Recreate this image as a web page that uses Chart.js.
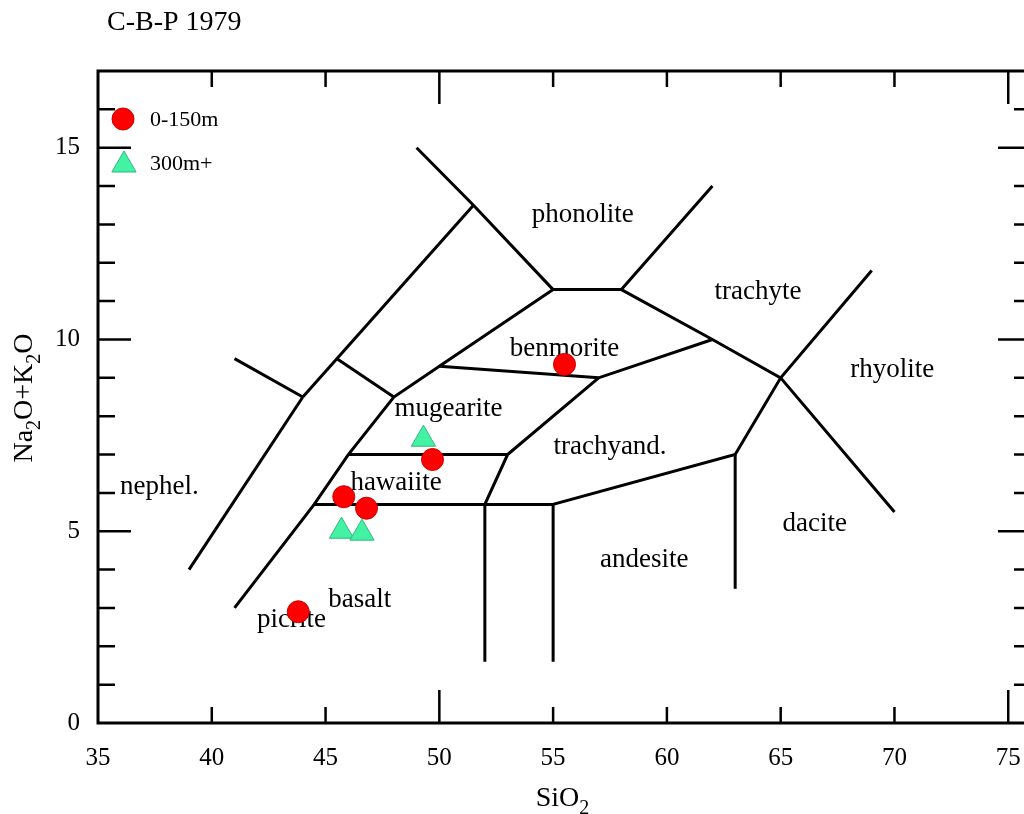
<!DOCTYPE html>
<html>
<head>
<meta charset="utf-8">
<script src="https://cdn.jsdelivr.net/npm/chart.js@4.4.1/dist/chart.umd.min.js"></script>
<style>
  html, body { margin: 0; padding: 0; background: #fff; overflow: hidden; }
  #tas { position: absolute; left: 0; top: 0; }
</style>
</head>
<body>
<canvas id="tas" width="1040" height="814"></canvas>
<script>
// samples, SiO2 vs Na2O+K2O (wt%)
const shallowSiO2 = [55.5, 49.7, 45.8, 46.8, 43.8];
const shallowAlk  = [9.35, 6.87, 5.9, 5.6, 2.9];
const deepSiO2 = [49.3, 45.7, 46.6];
const deepAlk  = [7.4, 5.0, 4.95];

// field boundaries, Cox, Bell & Pankhurst 1979 ([SiO2, alkali])
const lineNephLeft   = [[39, 4], [44, 8.5]];
const lineNephSpur   = [[41, 9.5], [44, 8.5]];
const lineNephUpper  = [[44, 8.5], [51.5, 13.5]];
const lineMugSpur    = [[45.5, 9.5], [48, 8.5]];
const linePhonoLeft  = [[49, 15], [51.5, 13.5], [55, 11.3]];
const lineBasaltLeft = [[41, 3], [44.5, 5.7], [46, 7], [48, 8.5], [50, 9.3], [55, 11.3]];
const lineHawBase    = [[44.5, 5.7], [55, 5.7]];
const lineHawTop     = [[46, 7], [53, 7]];
const lineBasaltRight = [[52, 1.6], [52, 5.7], [53, 7], [57, 9]];
const lineAndesite   = [[55, 1.6], [55, 5.7], [63, 7], [65, 9], [69, 11.8]];
const lineBenBase    = [[50, 9.3], [57, 9], [62, 10]];
const linePhonoBase  = [[55, 11.3], [58, 11.3], [62, 14]];
const lineTrachyte   = [[58, 11.3], [62, 10], [65, 9], [70, 5.5]];
const lineDacite     = [[63, 3.5], [63, 7]];
const boundaries = [lineNephLeft, lineNephSpur, lineNephUpper, lineMugSpur, linePhonoLeft,
  lineBasaltLeft, lineHawBase, lineHawTop, lineBasaltRight, lineAndesite, lineBenBase,
  linePhonoBase, lineTrachyte, lineDacite];

// field names and where they sit
const fieldNames = ['phonolite', 'trachyte', 'benmorite', 'rhyolite', 'mugearite', 'trachyand.',
  'nephel.', 'hawaiite', 'dacite', 'andesite', 'basalt', 'picrite'];
const fieldSiO2 = [56.3, 64.0, 55.5, 69.9, 50.4, 57.5, 37.7, 48.1, 66.5, 59.0, 46.5, 43.5];
const fieldAlk  = [13.25, 11.25, 9.75, 9.2, 8.2, 7.2, 6.15, 6.25, 5.2, 4.25, 3.2, 2.7];

const xTickValues = [35, 40, 45, 50, 55, 60, 65, 70, 75];
const yTickValues = [0, 5, 10, 15];

const SERIF = '"Liberation Serif", "Times New Roman", serif';

function toPoints(xs, ys) {
    return xs.map(function (x, i) { return { x: x, y: ys[i] }; });
}

function triangle(ctx, x, y, r) {
    ctx.beginPath();
    for (let k = 0; k < 3; k++) {
        const a = k * 2 * Math.PI / 3;
        const px = x + Math.sin(a) * r, py = y - Math.cos(a) * r;
        if (k === 0) ctx.moveTo(px, py); else ctx.lineTo(px, py);
    }
    ctx.closePath();
}

// text with subscripts, parts = [[text, isSub], ...]
function drawSubText(ctx, parts, cx, cy, size) {
    const subSize = Math.round(size * 0.72);
    let w = 0;
    parts.forEach(function (p) {
        ctx.font = (p[1] ? subSize : size) + 'px ' + SERIF;
        w += ctx.measureText(p[0]).width;
    });
    let x = cx - w / 2;
    ctx.textAlign = 'left';
    ctx.textBaseline = 'alphabetic';
    parts.forEach(function (p) {
        ctx.font = (p[1] ? subSize : size) + 'px ' + SERIF;
        ctx.fillText(p[0], x, cy + (p[1] ? size * 0.3 : 0));
        x += ctx.measureText(p[0]).width;
    });
}

const decor = {
    id: 'decor',
    beforeDatasetsDraw(chart) {
        const ctx = chart.ctx, xs = chart.scales.x, ys = chart.scales.y;
        ctx.save();
        ctx.fillStyle = '#000';
        ctx.font = '27px ' + SERIF;
        ctx.textAlign = 'center';
        ctx.textBaseline = 'middle';
        fieldNames.forEach(function (name, i) {
            ctx.fillText(name, xs.getPixelForValue(fieldSiO2[i]), ys.getPixelForValue(fieldAlk[i]));
        });
        ctx.restore();
    },
    afterDraw(chart) {
        const ctx = chart.ctx, xs = chart.scales.x, ys = chart.scales.y;
        const a = chart.chartArea;
        ctx.save();
        ctx.strokeStyle = '#000';
        ctx.lineWidth = 3;
        ctx.strokeRect(a.left, a.top, a.right - a.left, a.bottom - a.top);

        // inward ticks on all four sides
        ctx.lineWidth = 2.5;
        ctx.beginPath();
        for (let v = 40; v < 76; v += 5) {
            const px = xs.getPixelForValue(v);
            const len = v % 25 === 0 ? 33 : 16;
            ctx.moveTo(px, a.bottom); ctx.lineTo(px, a.bottom - len);
            ctx.moveTo(px, a.top); ctx.lineTo(px, a.top + len);
        }
        for (let v = 1; v < 17; v += 1) {
            const py = ys.getPixelForValue(v);
            const len = v % 5 === 0 ? 33 : 17;
            ctx.moveTo(a.left, py); ctx.lineTo(a.left + len, py);
            ctx.moveTo(a.right, py); ctx.lineTo(a.right - len, py);
        }
        ctx.stroke();

        // x tick labels (drawn here so they add no padding to the plot area)
        ctx.fillStyle = '#000';
        ctx.font = '25px ' + SERIF;
        ctx.textAlign = 'center';
        ctx.textBaseline = 'middle';
        xTickValues.forEach(function (v) {
            ctx.fillText(String(v), xs.getPixelForValue(v), a.bottom + 35);
        });

        // title
        ctx.font = '28px ' + SERIF;
        ctx.textAlign = 'left';
        ctx.fillText('C-B-P 1979', 107, 23);

        // axis titles
        drawSubText(ctx, [['SiO', false], ['2', true]], (a.left + a.right) / 2 - 2, 806, 28);
        ctx.save();
        ctx.translate(32, (a.top + a.bottom) / 2 + 1);
        ctx.rotate(-Math.PI / 2);
        drawSubText(ctx, [['Na', false], ['2', true], ['O+K', false], ['2', true], ['O', false]], 0, 0, 28);
        ctx.restore();

        // legend
        const lx = a.left + 25, ly = a.top + 48;
        chart.data.datasets.slice(0, 2).forEach(function (ds, i) {
            const y = ly + i * 44;
            ctx.fillStyle = ds.backgroundColor;
            ctx.strokeStyle = ds.borderColor;
            ctx.lineWidth = 1;
            if (ds.pointStyle === 'triangle') {
                triangle(ctx, lx + 1, y + 2, 14);
            } else {
                ctx.beginPath();
                ctx.arc(lx, y, 11, 0, Math.PI * 2);
            }
            ctx.fill();
            ctx.stroke();
            ctx.fillStyle = '#000';
            ctx.font = '22px ' + SERIF;
            ctx.textAlign = 'left';
            ctx.textBaseline = 'middle';
            ctx.fillText(ds.label, lx + 27, y + 1);
        });
        ctx.restore();
    }
};

const datasets = [
    {
        label: '0-150m',
        data: toPoints(shallowSiO2, shallowAlk),
        pointStyle: 'circle',
        pointRadius: 11,
        backgroundColor: '#ff0000',
        borderColor: '#c80000',
        borderWidth: 1,
        showLine: false
    },
    {
        label: '300m+',
        data: toPoints(deepSiO2, deepAlk),
        pointStyle: 'triangle',
        pointRadius: 14,
        backgroundColor: '#44f2a4',
        borderColor: '#2cb87c',
        borderWidth: 1,
        showLine: false
    }
];
boundaries.forEach(function (line) {
    datasets.push({
        label: '',
        data: line.map(function (p) { return { x: p[0], y: p[1] }; }),
        showLine: true,
        borderColor: '#000',
        borderWidth: 3,
        pointRadius: 0,
        fill: false,
        tension: 0
    });
});

new Chart(document.getElementById('tas'), {
    type: 'scatter',
    data: { datasets: datasets },
    options: {
        responsive: false,
        animation: false,
        events: [],
        layout: { autoPadding: false, padding: { left: 0, top: 71, right: 9, bottom: 0 } },
        plugins: { legend: { display: false }, tooltip: { enabled: false } },
        scales: {
            x: {
                type: 'linear',
                min: 35,
                max: 76,
                afterFit: function (s) { s.height = 91; },
                afterBuildTicks: function (s) { s.ticks = xTickValues.map(function (v) { return { value: v }; }); },
                grid: { display: false, drawTicks: false },
                border: { display: false },
                ticks: { display: false }
            },
            y: {
                type: 'linear',
                min: 0,
                max: 17,
                afterFit: function (s) { s.width = 98; },
                afterBuildTicks: function (s) { s.ticks = yTickValues.map(function (v) { return { value: v }; }); },
                grid: { display: false, drawTicks: false },
                border: { display: false },
                ticks: { color: '#000', font: { family: SERIF, size: 25 }, padding: 18, autoSkip: false }
            }
        }
    },
    plugins: [decor]
});
</script>
</body>
</html>
